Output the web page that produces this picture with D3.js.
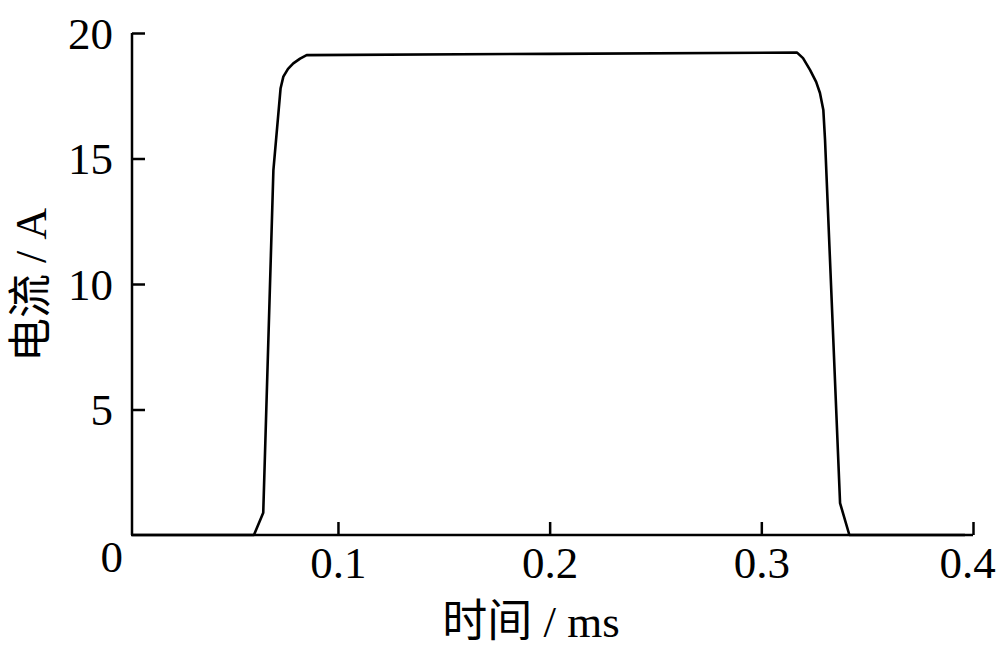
<!DOCTYPE html>
<html><head><meta charset="utf-8">
<script src="https://cdn.jsdelivr.net/npm/d3@7"></script>
<style>
html,body{margin:0;padding:0;background:#fff;}
text{font-family:"Liberation Serif","Noto Sans CJK SC",serif;fill:#000;}
</style></head>
<body><svg id="c" width="1000" height="653"></svg>
<script>
const timeMs = [0.0027,0.0603,0.0647,0.0695,0.0729,0.0742,0.0764,0.0789,0.0821,0.0852,0.2000,0.3169,0.3197,0.3230,0.3259,0.3277,0.3293,0.3301,0.3372,0.3416,0.3962];
const currentA = [0,0,0.89,14.54,17.80,18.26,18.57,18.79,18.98,19.12,19.17,19.22,19.0,18.53,18.05,17.61,16.93,15.74,1.27,0,0];
const xTicks = [0.1,0.2,0.3,0.4];
const yTicks = [0,5,10,15,20];
const xTitle = "时间 / ms";
const yTitle = "电流 / A";

const svg = d3.select("#c");
const x = d3.scaleLinear().domain([0.0027,0.4]).range([132,973]);
const y = d3.scaleLinear().domain([0,20]).range([535,33]);

const data = timeMs.map((t,i)=>({t, v: currentA[i]}));

// y axis
const yAx = svg.append("g").attr("transform","translate(132,0)")
  .call(d3.axisRight(y).tickValues(yTicks).tickSize(13).tickFormat(d3.format("d")).tickPadding(0));
yAx.select(".domain").attr("stroke","#000").attr("stroke-width",2.5).attr("d","M0,33V535");
yAx.selectAll(".tick line").attr("stroke-width",2.5);
yAx.selectAll(".tick text").attr("x",-19).attr("dy",15).attr("text-anchor","end")
  .style("font-size","45px").style("font-family","Liberation Serif");
yAx.selectAll(".tick").filter(d=>d===0).select("text").attr("x",-9).attr("dy",36);
yAx.selectAll(".tick").filter(d=>d===0).select("line").remove();

// x axis
const xAx = svg.append("g").attr("transform","translate(0,535)")
  .call(d3.axisTop(x).tickValues(xTicks).tickSize(13).tickFormat(d3.format(".1f")));
xAx.select(".domain").attr("stroke","#000").attr("stroke-width",2.5).attr("d","M131,0H973");
xAx.selectAll(".tick line").attr("stroke-width",2.5);
xAx.selectAll(".tick text").attr("y",43).attr("dy",0)
  .style("font-size","45px").style("font-family","Liberation Serif");
xAx.selectAll(".tick").filter(d=>d===0.4).select("text").attr("x",-6);

// line
svg.append("path").datum(data)
  .attr("fill","none").attr("stroke","#000").attr("stroke-width",2.6)
  .attr("stroke-linejoin","round")
  .attr("d", d3.line().x(d=>x(d.t)).y(d=>y(d.v)).curve(d3.curveLinear));

// titles
svg.append("text").attr("x",531).attr("y",637).attr("text-anchor","middle")
  .style("font-size","45px").text(xTitle);
svg.append("text").attr("transform","translate(46,285) rotate(-90)").attr("text-anchor","middle")
  .style("font-size","44px").text(yTitle);
</script></body></html>
